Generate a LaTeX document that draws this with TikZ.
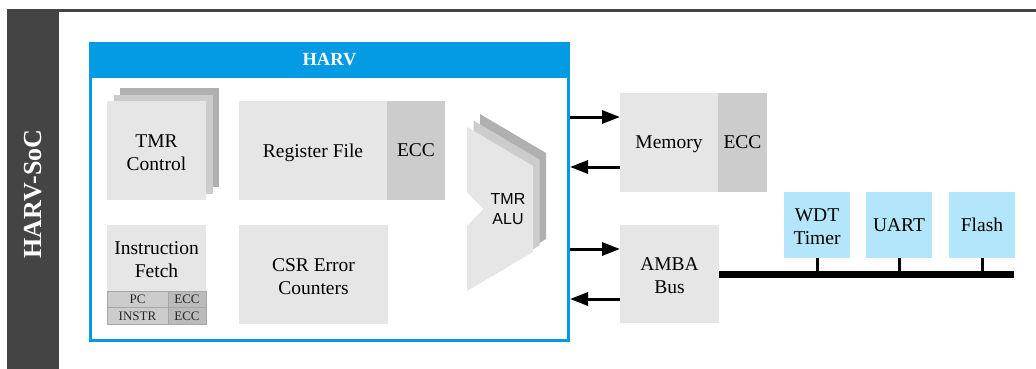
\documentclass[tikz,border=0pt]{standalone}
\usepackage{fontspec}
\setmainfont{Liberation Serif}
\newfontfamily\alufont{Liberation Sans}
\usetikzlibrary{arrows.meta,calc}

\definecolor{socdark}{HTML}{444444}
\definecolor{harvblue}{RGB}{4,155,229}
\definecolor{blkA}{HTML}{E6E6E6}
\definecolor{blkB}{HTML}{CCCCCC}
\definecolor{blkC}{HTML}{B0B0B0}
\definecolor{cellB}{HTML}{BBBBBB}
\definecolor{periph}{RGB}{179,229,251}

\begin{document}
\begin{tikzpicture}[x=1pt,y=-1pt,
  every node/.style={inner sep=0pt,outer sep=0pt},
  txt/.style={font=\fontsize{19.5}{23.4}\selectfont,align=center},
  oneline/.style={text depth=0pt},
  twoline/.style={text height=40pt},
  blk/.style={txt,fill=blkA,minimum height=99pt},
  eccblk/.style={txt,fill=blkB,minimum height=99pt},
  layerB/.style={fill=blkB,minimum width=99pt,minimum height=99pt},
  layerC/.style={fill=blkC,minimum width=99pt,minimum height=99pt},
  cell/.style={draw=black!35,line width=0.8pt,minimum height=16.5pt,
    font=\fontsize{13}{14}\selectfont,text=black!85,text depth=0pt},
  periphbox/.style={txt,fill=periph,minimum width=66pt,minimum height=66pt},
  link/.style={line width=3pt,-{Triangle[length=18pt,width=13pt]}},
  stub/.style={line width=3pt},
  busline/.style={line width=7pt}
]
\useasboundingbox (0,0) rectangle (1036,369);

% SoC frame: top rule and left title column
\fill[socdark] (7,9) rectangle (1036,12);
\fill[socdark] (7,9) rectangle (59,369);
\node[rotate=90,text=white,font=\fontsize{26}{30}\bfseries] (soc) at (33.5,194) {HARV-SoC};

% HARV core frame with header
\node[draw=harvblue,line width=3pt,outer sep=1.5pt,minimum width=478pt,minimum height=297pt] (harv) at (329.5,192) {};
\node[fill=harvblue,minimum width=481pt,minimum height=36pt,text=white,font=\fontsize{18.5}{22}\bfseries] (harvhead) at (329.5,60) {HARV};

% TMR control (three stacked copies)
\node[layerC] (tmrc3) at (169.5,137.5) {};
\node[layerB] (tmrc2) at (163,144) {};
\node[blk,twoline,minimum width=99pt] (tmrc) at (156.5,150.5) {TMR\\Control};

% Register file with ECC
\node[blk,oneline,minimum width=148pt] (regf) at (313,150.5) {Register File};
\node[eccblk,minimum width=58pt] (regecc) at (416,150.5) {ECC};

% Instruction fetch with protected PC / INSTR registers
\node[blk,twoline,minimum width=99pt,minimum height=66pt] (ifetch) at (156.5,258) {Instruction\\Fetch};
\node[cell,fill=blkB,minimum width=61pt] (pc) at (137.5,299.25) {PC};
\node[cell,fill=cellB,minimum width=38pt] (pcecc) at (187,299.25) {ECC};
\node[cell,fill=blkB,minimum width=61pt] (instr) at (137.5,315.75) {INSTR};
\node[cell,fill=cellB,minimum width=38pt] (instrecc) at (187,315.75) {ECC};

% CSR error counters
\node[blk,twoline,minimum width=149pt] (csr) at (313.5,274.5) {CSR Error\\Counters};

% TMR ALU (three stacked copies)
\fill[blkC,shift={(13,-13)}] (467,127) -- (533,166) -- (533,252) -- (467,291) -- (467,226) -- (483,209) -- (467,192) -- cycle;
\fill[blkB,shift={(6.5,-6.5)}] (467,127) -- (533,166) -- (533,252) -- (467,291) -- (467,226) -- (483,209) -- (467,192) -- cycle;
\fill[blkA] (467,127) -- (533,166) -- (533,252) -- (467,291) -- (467,226) -- (483,209) -- (467,192) -- cycle;
\fill[white] (466,192) -- (483,209) -- (466,226) -- cycle;
\node[font=\alufont\fontsize{16}{19.5}\selectfont,align=center] (alu) at (508,209) {TMR\\ALU};

% Memory and AMBA bus
\node[blk,oneline,minimum width=98pt] (mem) at (669,142.5) {Memory};
\node[eccblk,minimum width=49pt] (memecc) at (742.5,142.5) {ECC};
\node[blk,twoline,minimum width=99pt,minimum height=98pt] (amba) at (669.5,274) {AMBA\\Bus};

% Core <-> memory / bus links
\coordinate (m1) at ($(mem.west)+(0,-25.5)$);
\coordinate (m2) at ($(mem.west)+(0,24.5)$);
\coordinate (a1) at ($(amba.west)+(0,-25)$);
\coordinate (a2) at ($(amba.west)+(0,25)$);
\draw[link] (harv.east |- m1) -- (m1);
\draw[link] (m2) -- (harv.east |- m2);
\draw[link] (harv.east |- a1) -- (a1);
\draw[link] (a2) -- (harv.east |- a2);

% Peripherals on the AMBA bus
\node[periphbox,twoline] (wdt) at (817,225) {WDT\\Timer};
\node[periphbox] (uart) at (899,225) {UART};
\node[periphbox] (flash) at (982,225) {Flash};
\coordinate (busend) at (1014,274);
\draw[stub] (wdt.south) -- (wdt.south |- busend);
\draw[stub] (uart.south) -- (uart.south |- busend);
\draw[stub] (flash.south) -- (flash.south |- busend);
\draw[busline] (amba.east) -- (busend);
\end{tikzpicture}
\end{document}
